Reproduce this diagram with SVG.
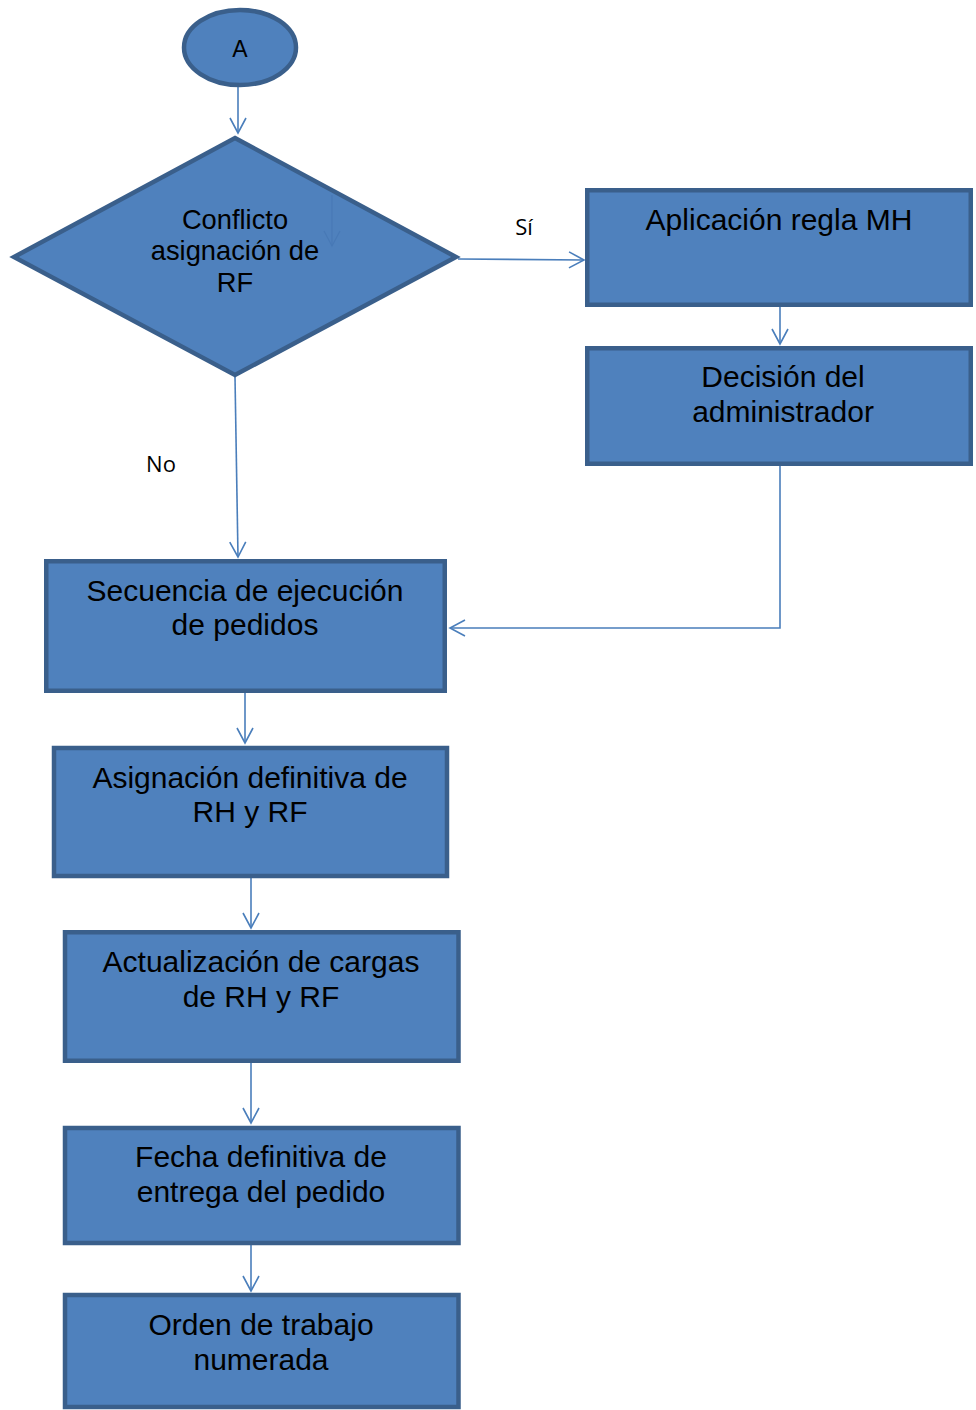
<svg xmlns="http://www.w3.org/2000/svg" width="976" height="1410" viewBox="0 0 976 1410">
<style>
.node{fill:#4F81BD;stroke:#3A5F8B;stroke-width:4.5}
.t{font-family:"Liberation Sans",Arial,sans-serif;font-size:30px;fill:#000;text-anchor:middle}
.td{font-family:"Liberation Sans",Arial,sans-serif;font-size:27.3px;fill:#000;text-anchor:middle}
.lbl{font-family:"Open Sans","Noto Sans",sans-serif;font-size:22px;fill:#000;text-anchor:middle}
.c{fill:none;stroke:#4A7EBB;stroke-width:1.6}
</style>
<defs>
<marker id="arr" markerUnits="userSpaceOnUse" markerWidth="20" markerHeight="20" viewBox="-16 -10 18 20" refX="0" refY="0" orient="auto">
<path d="M-15,-8 L0,0 L-15,8" fill="none" stroke="#4A7EBB" stroke-width="1.6"/>
</marker>
<marker id="arrf" markerUnits="userSpaceOnUse" markerWidth="20" markerHeight="20" viewBox="-16 -10 18 20" refX="0" refY="0" orient="auto">
<path d="M-15,-8 L0,0 L-15,8" fill="none" stroke="#4879B6" stroke-width="1.2"/>
</marker>
</defs>
<rect width="976" height="1410" fill="#fff"/>
<g id="connectors">
<line class="c" x1="238" y1="87" x2="238" y2="133" marker-end="url(#arr)"/>
<line class="c" x1="458" y1="259" x2="584" y2="260" marker-end="url(#arr)"/>
<line class="c" x1="780" y1="307" x2="780" y2="344" marker-end="url(#arr)"/>
<line class="c" x1="235" y1="377" x2="238" y2="557" marker-end="url(#arr)"/>
<polyline class="c" points="780,466 780,628 450,628" marker-end="url(#arr)"/>
<line class="c" x1="245" y1="693" x2="245" y2="743" marker-end="url(#arr)"/>
<line class="c" x1="251" y1="878" x2="251" y2="928" marker-end="url(#arr)"/>
<line class="c" x1="251" y1="1062" x2="251" y2="1123" marker-end="url(#arr)"/>
<line class="c" x1="251" y1="1245" x2="251" y2="1291" marker-end="url(#arr)"/>
</g>
<g id="lblSi"><text class="lbl" x="524" y="235">Sí</text></g>
<g id="lblNo"><text class="lbl" x="161" y="472">No</text></g>
<g id="nodeA">
<ellipse class="node" cx="240" cy="47.5" rx="56" ry="37.5"/>
<text x="240" y="57" font-family="Liberation Sans,Arial,sans-serif" font-size="23" text-anchor="middle">A</text>
</g>
<g id="decision">
<polygon class="node" points="235,138 456,257 235,375 14,257"/>
<line x1="332" y1="195" x2="332" y2="246" stroke="#4879B6" stroke-width="1.2" marker-end="url(#arrf)"/>
<text class="td" x="235" y="229">Conflicto</text>
<text class="td" x="235" y="260">asignación de</text>
<text class="td" x="235" y="292">RF</text>
</g>
<g id="aplicacion">
<rect class="node" x="587.25" y="190.25" width="383.5" height="114.5"/>
<text class="t" x="779" y="230">Aplicación regla MH</text>
</g>
<g id="decisionAdmin">
<rect class="node" x="587.25" y="348.25" width="383.5" height="115.5"/>
<text class="t" x="783" y="387">Decisión del</text>
<text class="t" x="783" y="422">administrador</text>
</g>
<g id="secuencia">
<rect class="node" x="46.25" y="561.25" width="398.5" height="129.5"/>
<text class="t" x="245" y="601">Secuencia de ejecución</text>
<text class="t" x="245" y="635">de pedidos</text>
</g>
<g id="asignacion">
<rect class="node" x="54" y="748" width="393" height="128"/>
<text class="t" x="250" y="788">Asignación definitiva de</text>
<text class="t" x="250" y="822">RH y RF</text>
</g>
<g id="actualizacion">
<rect class="node" x="65" y="932.25" width="393.5" height="128.5"/>
<text class="t" x="261" y="972">Actualización de cargas</text>
<text class="t" x="261" y="1007">de RH y RF</text>
</g>
<g id="fecha">
<rect class="node" x="65" y="1128" width="393.5" height="115"/>
<text class="t" x="261" y="1167">Fecha definitiva de</text>
<text class="t" x="261" y="1202">entrega del pedido</text>
</g>
<g id="orden">
<rect class="node" x="65" y="1295" width="393.5" height="112"/>
<text class="t" x="261" y="1335">Orden de trabajo</text>
<text class="t" x="261" y="1370">numerada</text>
</g>
</svg>
